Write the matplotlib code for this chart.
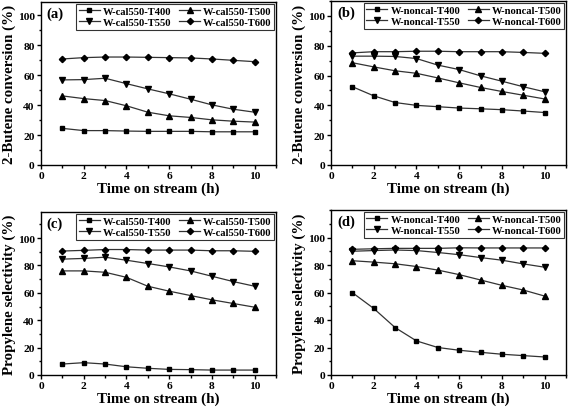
import matplotlib
matplotlib.use("Agg")
import matplotlib.pyplot as plt
from matplotlib.ticker import MultipleLocator

time_h = [1, 2, 3, 4, 5, 6, 7, 8, 9, 10]

cal_labels = ["W-cal550-T400", "W-cal550-T500", "W-cal550-T550", "W-cal550-T600"]
noncal_labels = ["W-noncal-T400", "W-noncal-T500", "W-noncal-T550", "W-noncal-T600"]

# (a) 2-Butene conversion, calcined
a_T400 = [24.5, 23.0, 23.0, 22.7, 22.5, 22.5, 22.5, 22.2, 22.2, 22.2]
a_T500 = [46.2, 44.4, 43.1, 39.6, 35.3, 32.9, 31.8, 30.2, 29.3, 28.7]
a_T550 = [56.9, 57.1, 58.0, 54.4, 50.9, 47.6, 44.0, 40.2, 37.3, 35.3]
a_T600 = [70.9, 71.8, 72.2, 72.2, 72.0, 71.8, 71.6, 70.9, 70.0, 69.1]

# (b) 2-Butene conversion, non-calcined
b_T400 = [52.5, 46.4, 41.9, 40.0, 39.1, 38.2, 37.7, 37.1, 36.2, 35.2]
b_T500 = [68.6, 65.8, 63.2, 61.5, 58.4, 55.1, 52.0, 49.3, 46.8, 44.3]
b_T550 = [73.0, 73.0, 72.8, 71.4, 67.0, 64.0, 59.8, 56.2, 52.5, 49.1]
b_T600 = [75.2, 76.0, 76.0, 76.3, 76.3, 76.0, 76.0, 76.0, 75.5, 74.9]

# (c) Propylene selectivity, calcined
c_T400 = [8.0, 9.0, 8.0, 6.0, 4.9, 4.1, 3.9, 3.6, 3.6, 3.6]
c_T500 = [76.0, 76.0, 75.0, 71.3, 64.8, 61.2, 58.0, 54.9, 52.2, 49.5]
c_T550 = [84.6, 85.1, 86.0, 83.8, 81.4, 78.9, 76.0, 72.1, 68.2, 64.8]
c_T600 = [90.5, 91.0, 91.6, 91.6, 91.2, 91.2, 91.2, 90.7, 90.7, 90.3]

# (d) Propylene selectivity, non-calcined
d_T400 = [59.9, 48.4, 34.5, 24.8, 20.0, 18.0, 16.5, 15.1, 14.1, 13.1]
d_T500 = [83.1, 82.1, 80.9, 78.9, 76.3, 73.0, 69.1, 65.2, 61.8, 57.4]
d_T550 = [90.0, 90.5, 90.9, 90.5, 89.1, 87.5, 85.4, 83.5, 80.8, 78.4]
d_T600 = [91.4, 91.8, 92.1, 92.1, 92.1, 92.5, 92.4, 92.4, 92.4, 92.4]

markers = ["s", "^", "v", "D"]
msizes = [3.2, 4.0, 4.0, 3.2]

plt.rcParams["font.family"] = ["Liberation Serif", "DejaVu Serif"]
plt.rcParams["font.weight"] = "bold"

W, H = 569, 414
fig = plt.figure(figsize=(W / 100, H / 100), dpi=100)

def add_ax(l, r, t, b):
    return fig.add_axes([l / W, 1 - b / H, (r - l) / W, (b - t) / H])

panels = [
    (add_ax(41, 276, 3, 166), "(a)", [a_T400, a_T500, a_T550, a_T600], cal_labels,
     "2-Butene conversion (%)", 109),
    (add_ax(331, 566, 2, 166), "(b)", [b_T400, b_T500, b_T550, b_T600], noncal_labels,
     "2-Butene conversion (%)", 110),
    (add_ax(41, 276, 213, 376), "(c)", [c_T400, c_T500, c_T550, c_T600], cal_labels,
     "Propylene selectivity (%)", 119),
    (add_ax(331, 566, 211, 376), "(d)", [d_T400, d_T500, d_T550, d_T600], noncal_labels,
     "Propylene selectivity (%)", 120),
]

for ax, tag, series, labels, ylabel, ytop in panels:
    handles = []
    for ys, lab, m, ms in zip(series, labels, markers, msizes):
        h, = ax.plot(time_h, ys, color="#333333", lw=0.9, marker=m, ms=ms,
                     mfc="black", mec="black", label=lab)
        handles.append(h)
    ax.set_xlim(0, 11)
    ax.set_ylim(0, ytop)
    ax.xaxis.set_major_locator(MultipleLocator(2))
    ax.xaxis.set_minor_locator(MultipleLocator(1))
    ax.yaxis.set_minor_locator(MultipleLocator(10))
    ax.set_yticks([0, 20, 40, 60, 80, 100])
    ax.tick_params(which="both", direction="out", top=False, right=False,
                   labelsize=8.2, width=1, pad=1.5)
    ax.tick_params(which="major", length=3)
    ax.tick_params(which="minor", length=1.8)
    for lbl in ax.get_xticklabels() + ax.get_yticklabels():
        lbl.set_fontweight("bold")
    for s in ax.spines.values():
        s.set_linewidth(1.0)
    ax.set_xlabel("Time on stream (h)", fontsize=10.8, fontweight="bold", labelpad=1)
    ax.set_ylabel(ylabel, fontsize=10.8, fontweight="bold", labelpad=1)
    ax.text(0.025, 0.975, tag, transform=ax.transAxes, ha="left", va="top",
            fontsize=10.5, fontweight="bold")
    order = [0, 2, 1, 3]
    leg = ax.legend([handles[i] for i in order], [labels[i] for i in order],
                    loc="upper right", ncol=2, frameon=True, numpoints=1,
                    fancybox=False, edgecolor="black", borderaxespad=0.15,
                    handlelength=2.0, handletextpad=0.3, columnspacing=0.7,
                    labelspacing=0.2, borderpad=0.25,
                    prop={"weight": "bold", "size": 7.6})
    leg.get_frame().set_linewidth(0.8)

fig.savefig("out.png", dpi=100)
